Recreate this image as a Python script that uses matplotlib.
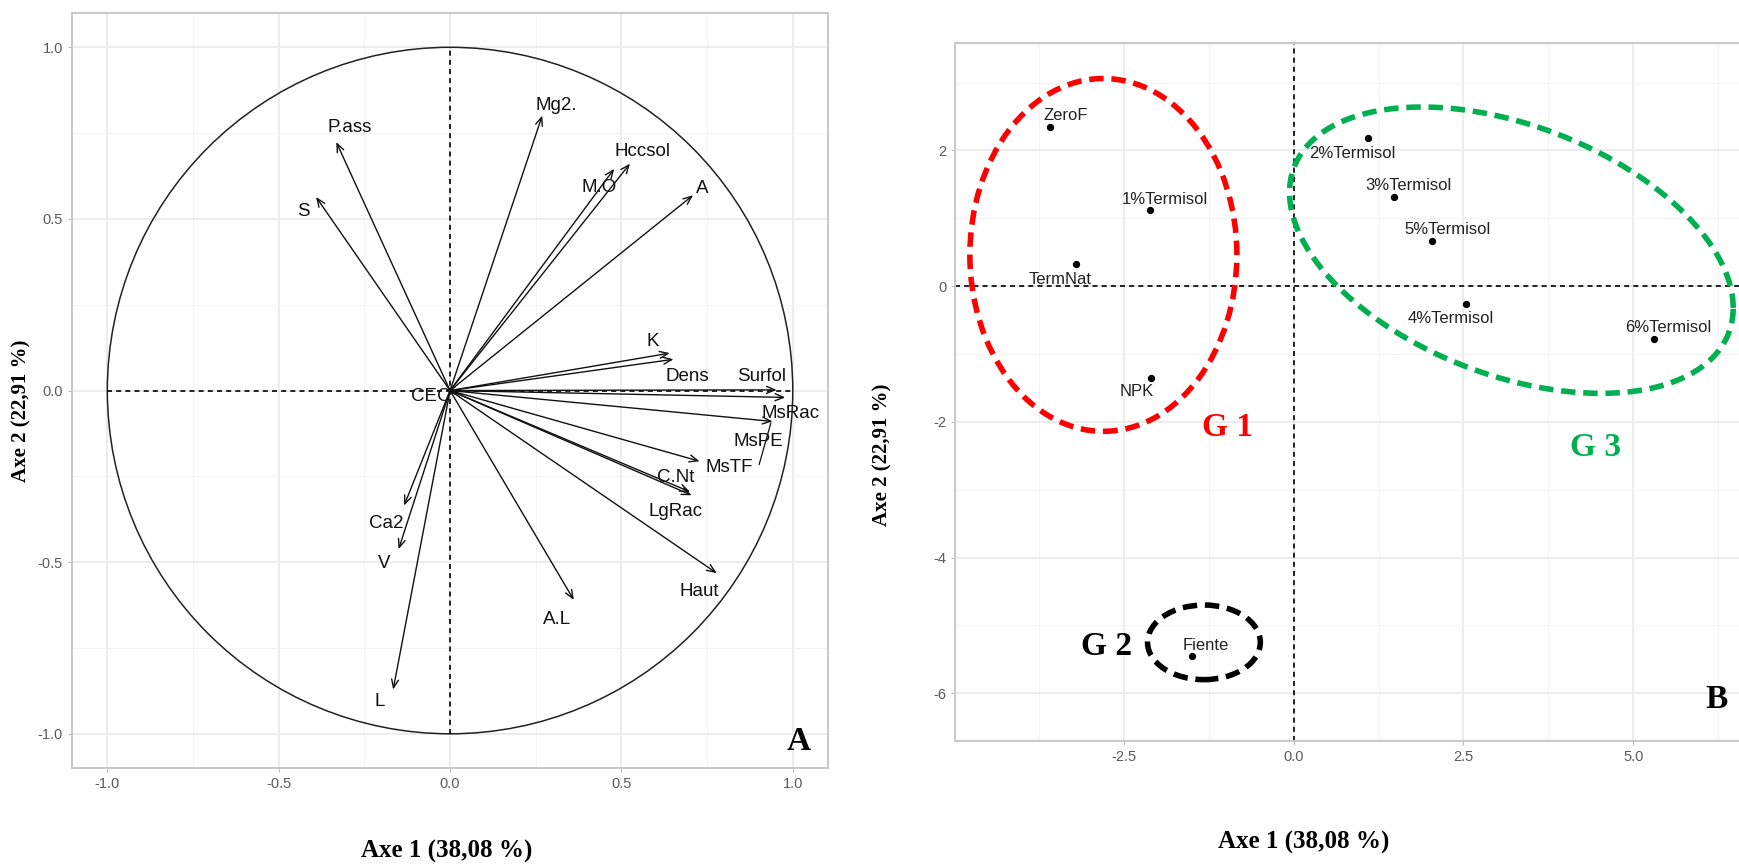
import numpy as np
import matplotlib
matplotlib.use("Agg")
import matplotlib.pyplot as plt
from matplotlib.patches import Circle, Ellipse

# Données ACP - cercle des corrélations (A)
variables = ["Mg2.", "P.ass", "S", "Hccsol", "M.O", "A", "K", "Dens", "Surfol",
             "MsRac", "MsPE", "MsTF", "C.Nt", "LgRac", "Haut", "A.L", "Ca2", "V", "L", "CEC"]
dim1 = [0.269, -0.332, -0.391, 0.525, 0.479, 0.709, 0.641, 0.652, 0.953,
        0.978, 0.941, 0.728, 0.700, 0.705, 0.778, 0.361, -0.134, -0.150, -0.166, -0.015]
dim2 = [0.801, 0.724, 0.564, 0.661, 0.646, 0.569, 0.109, 0.091, 0.002,
        -0.020, -0.090, -0.206, -0.295, -0.305, -0.532, -0.610, -0.335, -0.462, -0.871, 0.0]

# Données ACP - individus (B)
traitements = ["ZeroF", "1%Termisol", "TermNat", "NPK", "2%Termisol", "3%Termisol",
               "5%Termisol", "4%Termisol", "6%Termisol", "Fiente"]
ind1 = [-3.58, -2.11, -3.21, -2.10, 1.10, 1.48, 2.04, 2.54, 5.30, -1.50]
ind2 = [2.34, 1.12, 0.33, -1.35, 2.18, 1.32, 0.66, -0.27, -0.78, -5.45]

# décalages des étiquettes (mise en page)
dx_var = [0.04, 0.04, -0.036, 0.037, -0.044, 0.027, -0.051, 0.041, -0.043,
          0.016, -0.042, 0.087, -0.043, -0.048, -0.05, -0.048, -0.053, -0.043, -0.04, -0.04]
dy_var = [0.03, 0.043, -0.041, 0.034, -0.053, 0.019, 0.033, -0.05, 0.039,
          -0.046, -0.058, -0.019, 0.041, -0.047, -0.054, -0.056, -0.051, -0.041, -0.036, -0.017]
dx_ind = [0.22, 0.21, -0.23, -0.21, -0.24, 0.21, 0.22, -0.22, 0.22, 0.20]
dy_ind = [0.17, 0.16, -0.23, -0.20, -0.23, 0.17, 0.18, -0.21, 0.17, 0.16]

sans = "Liberation Sans"
serif = "Liberation Serif"
gris_grille = "#EBEBEB"
gris_texte = "#5A5A5A"


def style_axes(ax, xmaj, xmin, ymaj, ymin):
    ax.set_facecolor("white")
    ax.set_xticks(xmaj)
    ax.set_yticks(ymaj)
    ax.set_xticks(xmin, minor=True)
    ax.set_yticks(ymin, minor=True)
    ax.grid(True, which="major", color=gris_grille, lw=1.3, zorder=0)
    ax.grid(True, which="minor", color="#F3F3F3", lw=0.7, zorder=0)
    ax.set_axisbelow(True)
    ax.tick_params(which="major", length=3, color="#BBBBBB", labelcolor=gris_texte, labelsize=10.5)
    ax.tick_params(which="minor", length=0)
    for lab in ax.get_xticklabels() + ax.get_yticklabels():
        lab.set_fontfamily(sans)
    for s in ax.spines.values():
        s.set_color("#C8C8C8")
        s.set_linewidth(1.4)


fig = plt.figure(figsize=(17.4, 8.65), dpi=100)

# ---- Panneau A ----
ax1 = fig.add_axes([0.0414, 0.112, 0.4345, 0.873])
ax1.set_xlim(-1.103, 1.103)
ax1.set_ylim(-1.10, 1.10)
style_axes(ax1, [-1.0, -0.5, 0.0, 0.5, 1.0], [-0.75, -0.25, 0.25, 0.75],
           [-1.0, -0.5, 0.0, 0.5, 1.0], [-0.75, -0.25, 0.25, 0.75])
ax1.set_xticklabels(["-1.0", "-0.5", "0.0", "0.5", "1.0"])
ax1.set_yticklabels(["-1.0", "-0.5", "0.0", "0.5", "1.0"])
for lab in ax1.get_xticklabels() + ax1.get_yticklabels():
    lab.set_fontfamily(sans)

ax1.add_patch(Circle((0, 0), 1.0, fill=False, ec="#222222", lw=1.1, zorder=2))
ax1.plot([-1, 1], [0, 0], ls=(0, (3, 2.5)), color="black", lw=1.2, zorder=2)
ax1.plot([0, 0], [-1, 1], ls=(0, (3, 2.5)), color="black", lw=1.2, zorder=2)

for nom, x, y, ddx, ddy in zip(variables, dim1, dim2, dx_var, dy_var):
    ax1.annotate("", xy=(x, y), xytext=(0, 0),
                 arrowprops=dict(arrowstyle="->,head_length=0.6,head_width=0.25",
                                 color="#111111", lw=1.0, shrinkA=0, shrinkB=0), zorder=3)
    ax1.text(x + ddx, y + ddy, nom, fontsize=13.5, family=sans, color="#111111",
             ha="center", va="center", zorder=4)

# segment de l'étiquette MsPE
i_pe = variables.index("MsPE")
ax1.plot([dim1[i_pe] - 0.005, dim1[i_pe] - 0.039], [dim2[i_pe] - 0.005, dim2[i_pe] - 0.125],
         color="#111111", lw=0.9, zorder=3)

ax1.text(1.017, -1.021, "A", fontsize=24, family=serif, fontweight="bold",
         ha="center", va="center")

# ---- Panneau B ----
ax2 = fig.add_axes([0.549, 0.1437, 0.451, 0.8063])
ax2.set_xlim(-4.98, 6.57)
ax2.set_ylim(-6.70, 3.58)
style_axes(ax2, [-2.5, 0.0, 2.5, 5.0], [-3.75, -1.25, 1.25, 3.75, 6.25],
           [-6, -4, -2, 0, 2], [-5, -3, -1, 1, 3])
ax2.set_xticklabels(["-2.5", "0.0", "2.5", "5.0"])
ax2.set_yticklabels(["-6", "-4", "-2", "0", "2"])
for lab in ax2.get_xticklabels() + ax2.get_yticklabels():
    lab.set_fontfamily(sans)
ax2.spines["right"].set_visible(False)

ax2.axhline(0, ls=(0, (3, 2.5)), color="black", lw=1.2, zorder=2)
ax2.axvline(0, ls=(0, (3, 2.5)), color="black", lw=1.2, zorder=2)

ax2.scatter(ind1, ind2, s=18, color="black", zorder=4)
for nom, x, y, ddx, ddy in zip(traitements, ind1, ind2, dx_ind, dy_ind):
    ax2.text(x + ddx, y + ddy, nom, fontsize=12, family=sans, color="#222222",
             ha="center", va="center", zorder=4)

tirets = (0, (2.6, 1.4))
# G1
ax2.add_patch(Ellipse((-2.80, 0.46), 2 * 1.965, 2 * 2.60, fill=False, ec="#FF0000",
                      lw=4, ls=tirets, zorder=5))
# G2
ax2.add_patch(Ellipse((-1.32, -5.25), 2 * 0.83, 2 * 0.55, fill=False, ec="black",
                      lw=4, ls=tirets, zorder=5))
# G3 (ellipse inclinée)
t = np.linspace(0, 2 * np.pi, 400)
ex = 3.205 + 3.265 * np.cos(t)
ey = 0.53 - 0.851 * np.cos(t) + 1.931 * np.sin(t)
ax2.plot(ex, ey, color="#00B050", lw=4, ls=tirets, zorder=5)

ax2.text(-0.97, -2.08, "G 1", color="#FF0000", fontsize=24, family=serif,
         fontweight="bold", ha="center", va="center")
ax2.text(-2.76, -5.31, "G 2", color="black", fontsize=24, family=serif,
         fontweight="bold", ha="center", va="center")
ax2.text(4.44, -2.38, "G 3", color="#00B050", fontsize=24, family=serif,
         fontweight="bold", ha="center", va="center")
ax2.text(6.23, -6.09, "B", color="black", fontsize=24, family=serif,
         fontweight="bold", ha="center", va="center")

# Titres des axes
fig.text(0.2566, 0.0162, "Axe 1 (38,08 %)", fontsize=18, family=serif,
         fontweight="bold", ha="center", va="center")
fig.text(0.749, 0.0266, "Axe 1 (38,08 %)", fontsize=18, family=serif,
         fontweight="bold", ha="center", va="center")
fig.text(0.0126, 0.525, "Axe 2 (22,91 %)", fontsize=15, family=serif,
         fontweight="bold", rotation=90, ha="center", va="center")
fig.text(0.507, 0.474, "Axe 2 (22,91 %)", fontsize=15, family=serif,
         fontweight="bold", rotation=90, ha="center", va="center")

fig.savefig("out.png", dpi=100, facecolor="white")
